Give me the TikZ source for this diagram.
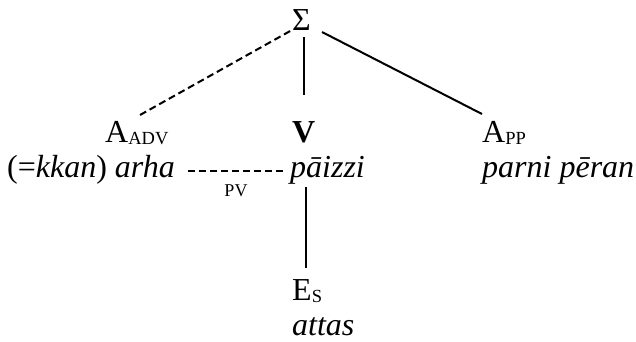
\documentclass[tikz,border=0pt]{standalone}
\usepackage{fontspec}
\setmainfont{Liberation Serif}
\newcommand{\sbs}[1]{\raisebox{-0.08em}{\fontsize{18.5}{18.5}\selectfont #1}}
\begin{document}
\begin{tikzpicture}[x=1pt,y=-1pt,
  lbl/.style={inner sep=0pt,anchor=base west,font=\fontsize{32}{32}\selectfont},
  solid line/.style={line width=2pt},
  dash line/.style={line width=2pt,dash pattern=on 7pt off 4pt}]
\useasboundingbox (0,0) rectangle (636,341);
\node[lbl] (sig) at (292,30) {Σ};
\node[lbl] (aadv) at (105,142) {A\sbs{ADV}};
\node[lbl] (arha) at (7,177) {(=\textit{kkan}) \textit{arha}};
\node[lbl] (v) at (292,142) {\textbf{V}};
\node[lbl] (paizzi) at (290,177) {\textit{pāizzi}};
\node[lbl] (app) at (482,142) {A\sbs{PP}};
\node[lbl] (parni) at (482,177) {\textit{parni pēran}};
\node[lbl] (es) at (292,300) {E\sbs{S}};
\node[lbl] (attas) at (292,335) {\textit{attas}};
\node[inner sep=0pt,anchor=base,font=\fontsize{18}{18}\selectfont] (pv) at (236,196) {PV};
\coordinate (s1) at (292,30);
\coordinate (s2) at (304,37);
\coordinate (s3) at (322,32);
\coordinate (a1) at (140,115);
\coordinate (v1) at (304,95);
\coordinate (p1) at (482,114);
\coordinate (d1) at (188,171);
\coordinate (d2) at (286,171);
\coordinate (e1) at (306,187);
\coordinate (e2) at (306,268);
\draw[dash line] (a1) -- (s1);
\draw[solid line] (s2) -- (v1);
\draw[solid line] (s3) -- (p1);
\draw[dash line] (d1) -- (d2);
\draw[solid line] (e1) -- (e2);
\end{tikzpicture}
\end{document}
